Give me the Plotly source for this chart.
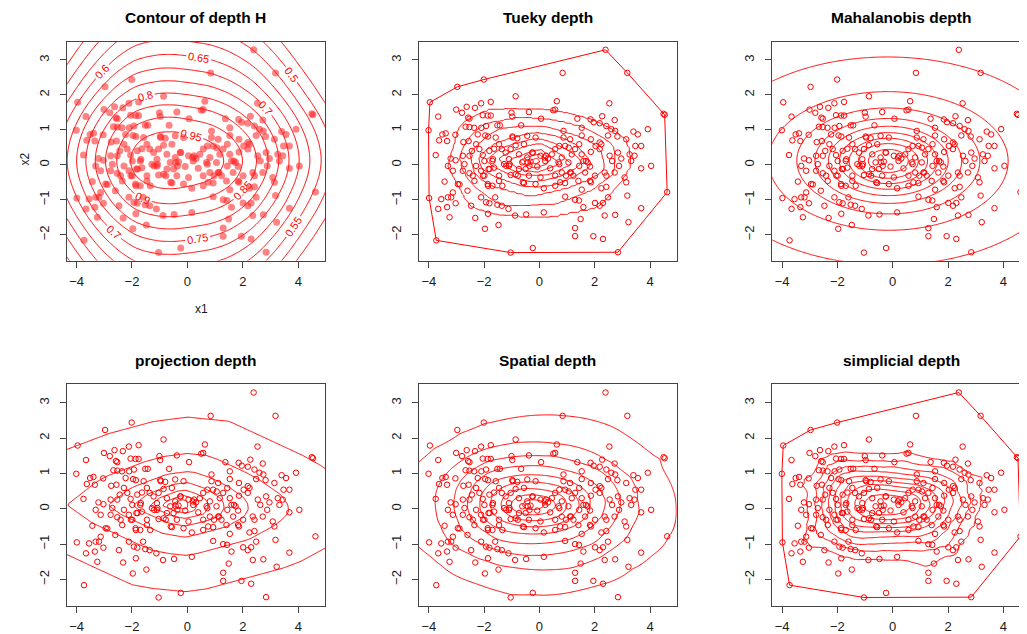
import numpy as np
import plotly.graph_objects as go

# ---------------- data ----------------
x1 = [2.39, 0.84, 3.18, -2.01, -2.97, -0.86, -3.96, 0.63, 2.53, -2.11,
      -1.76, -2.63, -2.33, -3.01, -2.80, -1.01, -0.38, 0.50, 0.57, 4.49,
      4.53, -3.66, -2.58, -2.53, -2.05, -1.87, -1.76, -0.98, 0.06, 1.37,
      1.85, 2.27, 2.72, 1.96, 2.18, -2.67, -2.53, -2.36, -2.10, -1.93,
      -1.52, -1.43, -0.66, 0.87, 1.53, 2.42, 2.60, 2.74, 3.92, 3.40,
      3.56, -4.01, -3.51, -3.39, -3.04, -3.63, -3.34, -2.75, -2.56, -2.23,
      -1.96, -1.86, -1.58, -0.98, -0.80, -0.44, -0.14, 0.87, 1.11, 1.53,
      1.86, 2.18, 2.24, 2.48, 2.82, 3.14, 3.47, 3.68, -3.75, -3.21,
      -3.03, -3.31, -2.77, -2.53, -2.44, -2.29, -2.17, -2.05, -1.81, -1.64,
      -1.46, -1.36, -1.22, -1.04, -0.86, -0.56, -0.26, 0.04, 0.19, 0.31,
      0.21, 0.57, 0.93, 1.29, 1.53, 1.59, 1.86, 2.03, 2.18, 2.54,
      2.63, 2.84, 2.96, 3.26, 3.44, 3.32, 3.68, 4.04, 2.88, -3.13,
      -2.77, -2.41, -2.35, -2.53, -2.11, -1.99, -1.84, -1.64, -1.46, -1.28,
      -1.10, -1.04, -0.86, -0.62, -0.50, -0.32, -0.08, 0.69, 0.81, 1.11,
      1.23, 1.65, 1.83, 2.36, 2.42, 2.72, 3.08, 3.14, -3.43, -2.95,
      -2.89, -1.87, -1.70, -1.46, -1.34, -0.56, -0.14, 0.16, 0.57, 0.75,
      0.93, 1.53, 1.83, 2.24, 2.42, -3.13, -3.31, -3.19, -3.55, -3.99,
      -2.60, -2.11, -1.93, -1.81, -1.60, -1.52, -1.12, -1.36, 0.93, 1.29,
      1.43, 1.59, 2.01, 2.18, 2.30, 2.48, 3.18, 4.62, 3.68, -3.66,
      -3.34, -3.03, -2.47, -3.25, -2.32, -1.86, -0.88, -0.48, 0.16, 1.49,
      2.36, 2.74, 3.22, -1.97, -1.48, 1.29, 1.29, 1.95, 2.30, -3.73,
      -0.24, -1.04, 2.84, -0.74, -0.44, 0.45, 0.81, 1.05, 1.17, -1.10,
      -0.74, 0.39, 0.57, -0.38, 0.04, 1.41, 2.01, -1.99, -2.29, -2.71,
      -1.70, 0.24, -0.42, -0.36, -1.08, -1.20, -0.78, -0.60, 0.72, 0.96,
      1.14, 1.68, 1.74, 1.86, 1.44, -1.68, -1.80, -2.04, -1.86, -0.96,
      -0.24, 0.72, 1.06, 1.44]
x2 = [3.29, 2.63, 2.63, 2.44, 2.23, 1.96, 1.79, 1.82, 1.76, 1.76,
      1.80, 1.66, 1.63, 1.58, 1.49, 1.49, 1.51, 1.56, 1.58, 1.46,
      1.43, 1.38, 1.35, 1.32, 1.42, 1.41, 1.41, 1.38, 1.32, 1.32,
      1.30, 1.39, 1.28, 1.22, 1.19, 1.09, 1.08, 1.06, 1.06, 1.11,
      1.13, 1.13, 1.13, 0.97, 1.06, 1.11, 1.02, 0.97, 1.02, 0.95,
      0.87, 0.99, 0.87, 0.90, 0.86, 0.70, 0.68, 0.65, 0.68, 0.87,
      0.84, 0.81, 0.78, 0.81, 0.76, 0.83, 0.78, 0.78, 0.73, 0.84,
      0.73, 0.64, 0.59, 0.84, 0.81, 0.73, 0.54, 0.54, 0.28, 0.18,
      0.13, -0.03, 0.26, 0.26, 0.40, 0.59, 0.45, 0.28, 0.40, 0.46,
      0.59, 0.45, 0.35, 0.45, 0.56, 0.59, 0.35, 0.26, 0.21, 0.18,
      0.11, 0.45, 0.54, 0.45, 0.30, 0.11, 0.37, 0.54, 0.45, 0.26,
      0.11, 0.35, 0.18, 0.30, 0.26, 0.11, -0.10, -0.03, -0.03, -0.17,
      -0.17, -0.31, -0.46, -0.24, -0.17, -0.31, -0.12, -0.08, -0.31, 0.02,
      -0.03, -0.29, -0.27, 0.07, -0.12, 0.09, -0.05, 0.07, -0.22, -0.22,
      -0.31, -0.22, -0.05, -0.22, -0.31, -0.22, -0.36, -0.50, -0.48, -0.55,
      -0.56, -0.55, -0.60, -0.46, -0.60, -0.52, -0.55, -0.67, -0.60, -0.50,
      -0.52, -0.71, -0.46, -0.67, -0.63, -0.79, -0.93, -0.93, -0.98, -0.95,
      -0.74, -0.93, -1.07, -1.10, -0.93, -1.14, -1.26, -1.17, -0.91, -1.00,
      -1.02, -1.21, -1.09, -1.17, -1.09, -0.93, -0.88, -0.78, -1.24, -1.26,
      -1.21, -1.10, -1.17, -1.50, -1.52, -1.40, -1.45, -1.42, -1.36, -1.55,
      -1.45, -1.43, -1.64, -1.83, -1.72, -1.81, -2.04, -2.04, -2.12, -2.16,
      -2.38, -2.51, -2.50, 0.30, 0.21, 0.30, 0.21, 0.07, 0.30, 0.16,
      -0.12, -0.10, -0.31, -0.31, -0.36, -0.46, -0.31, 0.11, -0.03, 0.02,
      0.11, 0.26, 0.07, -0.03, 0.02, -0.03, -0.31, -0.50, 0.02, -0.31,
      -0.22, 0.11, 0.07, -0.50, -0.03, 0.16, -0.12, -0.31, -0.60, 0.78,
      0.35, 0.54, 0.49, 0.59]

x_ticks = [-4, -2, 0, 2, 4]
y_ticks = [-2, -1, 0, 1, 2, 3]
titles = ["Contour of depth H", "Tueky depth", "Mahalanobis depth",
          "projection depth", "Spatial depth", "simplicial depth"]

# ---------------- depth computations from the data ----------------
P = np.column_stack([x1, x2]).astype(float)
n = len(P)
gx = np.linspace(-4.7, 5.2, 150)
gy = np.linspace(-3.0, 3.8, 120)
GX, GY = np.meshgrid(gx, gy)
G = np.column_stack([GX.ravel(), GY.ravel()])
NG = len(G)
shape = GX.shape

# depth H : L1-kernel average, normalised to its maximum
bwx, bwy = 4.6, 5.2
dH = np.exp(-(np.abs(G[:, None, 0] - P[None, :, 0]) / bwx +
              np.abs(G[:, None, 1] - P[None, :, 1]) / bwy)).mean(1)
dH = dH / dH.max()

# Tukey (halfspace) depth
tk = np.full(NG, n, dtype=float)
for a in np.linspace(0, 2 * np.pi, 360, endpoint=False):
    u = np.array([np.cos(a), np.sin(a)])
    p = np.sort(P @ u)
    cnt = n - np.searchsorted(p, G @ u, side="left")
    tk = np.minimum(tk, cnt)
dT = tk / n

# Mahalanobis depth
mu = P.mean(0)
S = np.cov(P.T)
Si = np.linalg.inv(S)
dd = G - mu
dM = 1.0 / (1.0 + np.einsum("ij,jk,ik->i", dd, Si, dd))

# projection depth
outl = np.zeros(NG)
for a in np.linspace(0, np.pi, 360, endpoint=False):
    u = np.array([np.cos(a), np.sin(a)])
    p = P @ u
    med = np.median(p)
    mad = np.median(np.abs(p - med))
    outl = np.maximum(outl, np.abs(G @ u - med) / mad)
dP = 1.0 / (1.0 + outl)

# spatial depth (affine invariant)
L = np.linalg.cholesky(S)
Li = np.linalg.inv(L)
Pz = (P - mu) @ Li.T
Gz = (G - mu) @ Li.T
D = Gz[:, None, :] - Pz[None, :, :]
nr = np.linalg.norm(D, axis=2)
nr[nr == 0] = 1.0
dS = 1.0 - np.linalg.norm((D / nr[..., None]).mean(1), axis=1)

# simplicial depth
ang = np.arctan2(P[None, :, 1] - G[:, None, 1], P[None, :, 0] - G[:, None, 0])
A = np.sort(ang, axis=1)
B = np.concatenate([A, A + 2 * np.pi], axis=1)
off = (np.arange(NG) * 20.0)[:, None]
idx = np.searchsorted((B + off).ravel(), (A + np.pi + off).ravel(), side="left")
idx = idx.reshape(NG, n) - (np.arange(NG) * 2 * n)[:, None]
k = idx - np.arange(n)[None, :] - 1
C3 = n * (n - 1) * (n - 2) / 6.0
dSi = 1.0 - (k * (k - 1) / 2.0).sum(1) / C3

# convex hull (monotone chain)
def hull(points):
    pts = sorted(map(tuple, points))
    def cross(o, a, b):
        return (a[0] - o[0]) * (b[1] - o[1]) - (a[1] - o[1]) * (b[0] - o[0])
    lo, up = [], []
    for p in pts:
        while len(lo) >= 2 and cross(lo[-2], lo[-1], p) <= 0:
            lo.pop()
        lo.append(p)
    for p in reversed(pts):
        while len(up) >= 2 and cross(up[-2], up[-1], p) <= 0:
            up.pop()
        up.append(p)
    h = lo[:-1] + up[:-1]
    h.append(h[0])
    return [q[0] for q in h], [q[1] for q in h]

hx, hy = hull(P)

# ---------------- layout ----------------
OFF = 8                      # page body margin of the html page
W, H = 1027 - OFF, 634 - OFF
col_px = [(66.7, 325.0), (419.0, 676.7), (772.3, 1030.0)]
row_px = [(41.7, 260.7), (384.3, 605.7)]
col_px = [(a - OFF, b - OFF) for a, b in col_px]
row_px = [(a - OFF, b - OFF) for a, b in row_px]
xmin, xmax = min(x1), max(x1)
ymin, ymax = min(x2), max(x2)
xr = [xmin - 0.04 * (xmax - xmin), xmax + 0.04 * (xmax - xmin)]
yr = [ymin - 0.04 * (ymax - ymin), ymax + 0.04 * (ymax - ymin)]

FONT = "Liberation Sans, Arial, sans-serif"
FRAME = "#444444"
RED = "#FF0000"
TXT = "#1a1a1a"

fig = go.Figure()
layout = dict(width=W, height=H, margin=dict(l=0, r=0, t=0, b=0),
              paper_bgcolor="white", plot_bgcolor="white", showlegend=False,
              font=dict(family=FONT, color=TXT, size=12))
annotations = []

def contour(z, start, end, size, ax, labels=False):
    return go.Contour(
        x=gx, y=gy, z=z.reshape(shape), autocontour=False,
        contours=dict(coloring="lines", start=start, end=end, size=size,
                      showlabels=labels,
                      labelfont=dict(size=11, color=RED, family=FONT)),
        line=dict(width=1, smoothing=0.6),
        colorscale=[[0, RED], [1, RED]], showscale=False,
        hoverinfo="skip", xaxis="x" + ax, yaxis="y" + ax)

for i in range(6):
    r, c = divmod(i, 3)
    left, right = col_px[c]
    top, bot = row_px[r]
    ax = "" if i == 0 else str(i + 1)
    xrange = list(xr)
    rr = right
    if right > W:
        rr = W
        xrange[1] = xr[0] + (W - left) / (right - left) * (xr[1] - xr[0])
    layout["xaxis" + ax] = dict(
        domain=[left / W, rr / W], range=xrange, anchor="y" + ax,
        tickvals=x_ticks, ticks="outside", ticklen=6, tickwidth=1,
        tickcolor=FRAME, showline=True, mirror=True, linecolor=FRAME,
        linewidth=1, showgrid=False, zeroline=False, ticklabelstandoff=3,
        tickfont=dict(size=13, color=TXT, family=FONT))
    layout["yaxis" + ax] = dict(
        domain=[1 - bot / H, 1 - top / H], range=yr, anchor="x" + ax,
        tickvals=y_ticks, ticks="outside", ticklen=6, tickwidth=1,
        tickcolor=FRAME, showline=True, mirror=(c != 2), linecolor=FRAME,
        linewidth=1, showgrid=False, zeroline=False, tickangle=-90,
        ticklabelstandoff=6,
        tickfont=dict(size=13, color=TXT, family=FONT))
    ty = (17 if r == 0 else 360) - OFF
    annotations.append(dict(
        text="<b>" + titles[i] + "</b>", x=(left + right) / 2 / W, y=1 - ty / H,
        xref="paper", yref="paper", showarrow=False, xanchor="center",
        yanchor="middle", borderpad=0,
        font=dict(size=15.5, color="#000000", family=FONT)))

    if i == 0:
        fig.add_trace(contour(dH, 0.45, 0.95, 0.05, ax, labels=True))
        fig.add_trace(go.Scatter(
            x=x1, y=x2, mode="markers", xaxis="x", yaxis="y", hoverinfo="skip",
            marker=dict(size=7, color="rgba(255,30,30,0.55)", line=dict(width=0))))
    else:
        if i == 1:
            fig.add_trace(contour(dT, 0.05, 0.45, 0.05, ax))
            fig.add_trace(go.Scatter(x=hx, y=hy, mode="lines", hoverinfo="skip",
                                     line=dict(color=RED, width=1),
                                     xaxis="x" + ax, yaxis="y" + ax))
        elif i == 2:
            fig.add_trace(contour(dM, 0.1, 0.9, 0.1, ax))
        elif i == 3:
            fig.add_trace(contour(dP, 0.1, 0.9, 0.1, ax))
        elif i == 4:
            fig.add_trace(contour(dS, 0.1, 0.9, 0.1, ax))
        else:
            fig.add_trace(contour(dSi, 0.025, 0.225, 0.025, ax))
            fig.add_trace(go.Scatter(x=hx, y=hy, mode="lines", hoverinfo="skip",
                                     line=dict(color=RED, width=1),
                                     xaxis="x" + ax, yaxis="y" + ax))
        fig.add_trace(go.Scatter(
            x=x1, y=x2, mode="markers", xaxis="x" + ax, yaxis="y" + ax,
            hoverinfo="skip",
            marker=dict(size=5.5, symbol="circle-open", color=RED,
                        line=dict(width=1, color=RED))))

annotations.append(dict(text="x1", x=(193 - OFF) / W, y=1 - (309 - OFF) / H,
                        xref="paper", yref="paper", showarrow=False,
                        font=dict(size=12, color=TXT, family=FONT)))
annotations.append(dict(text="x2", x=(15 - OFF) / W, y=1 - (151 - OFF) / H,
                        xref="paper", yref="paper", showarrow=False,
                        textangle=-90,
                        font=dict(size=12, color=TXT, family=FONT)))
layout["annotations"] = annotations
fig.update_layout(**layout)
fig.write_html("out.html")
